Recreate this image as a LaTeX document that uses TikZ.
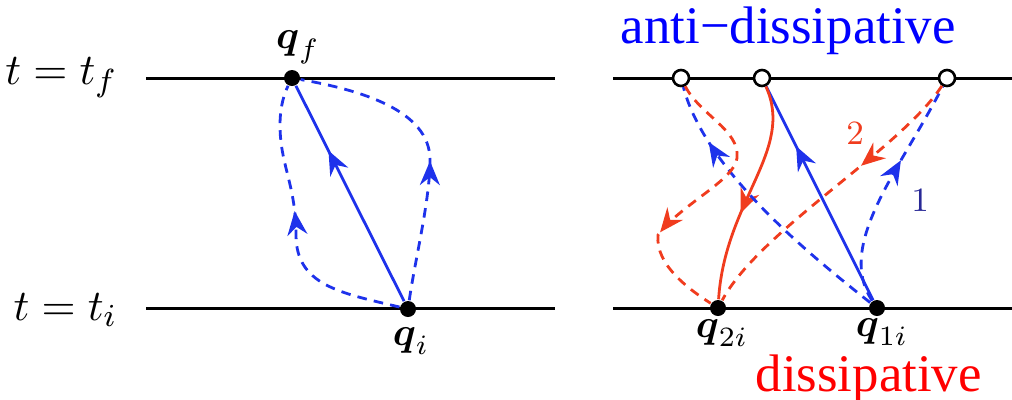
\documentclass[tikz,border=0pt]{standalone}
\usepackage{amsmath,amssymb}
\usepackage{fontspec}
\newfontfamily\capfont{Liberation Serif}
\usetikzlibrary{arrows.meta,decorations.markings,positioning}
\definecolor{pathblue}{RGB}{30,50,235}
\definecolor{pathred} {RGB}{240,60,30}
\definecolor{numnavy} {RGB}{40,40,150}

\begin{document}
\begin{tikzpicture}[
  x=0.25pt,y=-0.25pt,
  timeline/.style={line width=0.75pt},
  fixedpt/.style={circle,fill=black,inner sep=0pt,minimum size=4pt},
  freept/.style={circle,draw,fill=white,line width=0.65pt,inner sep=0pt,minimum size=4pt},
  solidpath/.style={line width=0.7pt},
  dashpath/.style={line width=0.7pt,dash pattern=on 2.4pt off 1.8pt},
  midarrow/.style={postaction={decorate,solid},
    decoration={markings,mark=at position #1 with
      {\arrow{Stealth[length=6pt,width=5pt,inset=2pt]}}}},
  caption/.style={font=\capfont\fontsize{13.2}{15}\selectfont,anchor=base west,inner sep=0pt},
  slicelbl/.style={font=\fontsize{11}{13}\selectfont,anchor=east,inner sep=0pt},
  ptlbl/.style={inner sep=0pt},
  pathnum/.style={font=\fontsize{8.5}{10}\selectfont}
]
\useasboundingbox (0,0) rectangle (1012,399);

% time slices
\coordinate (Lf0) at (146,78);  \coordinate (Lf1) at (555,78);
\coordinate (Li0) at (146,308); \coordinate (Li1) at (555,308);
\coordinate (Rf0) at (613,78);  \coordinate (Rf1) at (1012,78);
\coordinate (Ri0) at (613,308); \coordinate (Ri1) at (1012,308);
\draw[timeline] (Lf0) -- (Lf1);
\draw[timeline] (Li0) -- (Li1);
\draw[timeline] (Rf0) -- (Rf1);
\draw[timeline] (Ri0) -- (Ri1);

\node[slicelbl] (tf) at (118,78)  {$t=t_f$};
\node[slicelbl] (ti) at (118,310) {$t=t_i$};

% left panel: fixed end points
\node[fixedpt] (qf) at (292,78)  {};
\node[fixedpt] (qi) at (408,309) {};
\node[ptlbl] (qflbl) at (298,47)  {$\boldsymbol{q}_f$};
\node[ptlbl] (qilbl) at (411,341) {$\boldsymbol{q}_i$};

\draw[pathblue,solidpath,midarrow=0.7] (qi) -- (qf);
\draw[pathblue,dashpath,midarrow=0.56] (qi)
  .. controls (340,293) and (296,285) .. (296,235)
  .. controls (296,185) and (280,165) .. (280,125)
  .. controls (280,105) and (285,92) .. (qf);
\draw[pathblue,dashpath,midarrow=0.46] (qi)
  .. controls (415,260) and (430,200) .. (430,160)
  .. controls (430,110) and (360,90) .. (qf);

% right panel: initial points, free final points
\node[fixedpt] (q2i) at (718,308) {};
\node[fixedpt] (q1i) at (877,308) {};
\node[freept] (c1) at (681,78) {};
\node[freept] (c2) at (762,78) {};
\node[freept] (c3) at (947,78) {};
\node[ptlbl] (q2ilbl) at (722,333) {$\boldsymbol{q}_{2i}$};
\node[ptlbl] (q1ilbl) at (882,332) {$\boldsymbol{q}_{1i}$};

\draw[pathblue,solidpath,midarrow=0.72] (q1i) -- (c2);
\draw[pathred,solidpath,midarrow=0.6] (c2)
  .. controls (795,150) and (725,200) .. (q2i);
\draw[pathblue,dashpath,midarrow=0.79] (q1i)
  .. controls (810,255) and (705,170) .. (c1);
\draw[pathblue,dashpath,midarrow=0.64] (q1i)
  .. controls (835,245) and (900,170) .. (c3);
\draw[pathred,dashpath,midarrow=0.37] (c3)
  .. controls (900,150) and (760,230) .. (q2i);
\draw[pathred,dashpath,midarrow=0.68] (c1)
  .. controls (700,115) and (740,130) .. (737,158)
  .. controls (735,180) and (680,205) .. (658,235)
  .. controls (655,265) and (690,290) .. (q2i);

\node[pathnum,text=pathred] (n2) at (855,133) {2};
\node[pathnum,text=numnavy] (n1) at (920,200) {1};

% captions
\node[caption,text=blue] (anti) at (620,43)  {anti−dissipative};
\node[caption,text=red]  (diss) at (755,391) {dissipative};
\end{tikzpicture}
\end{document}
